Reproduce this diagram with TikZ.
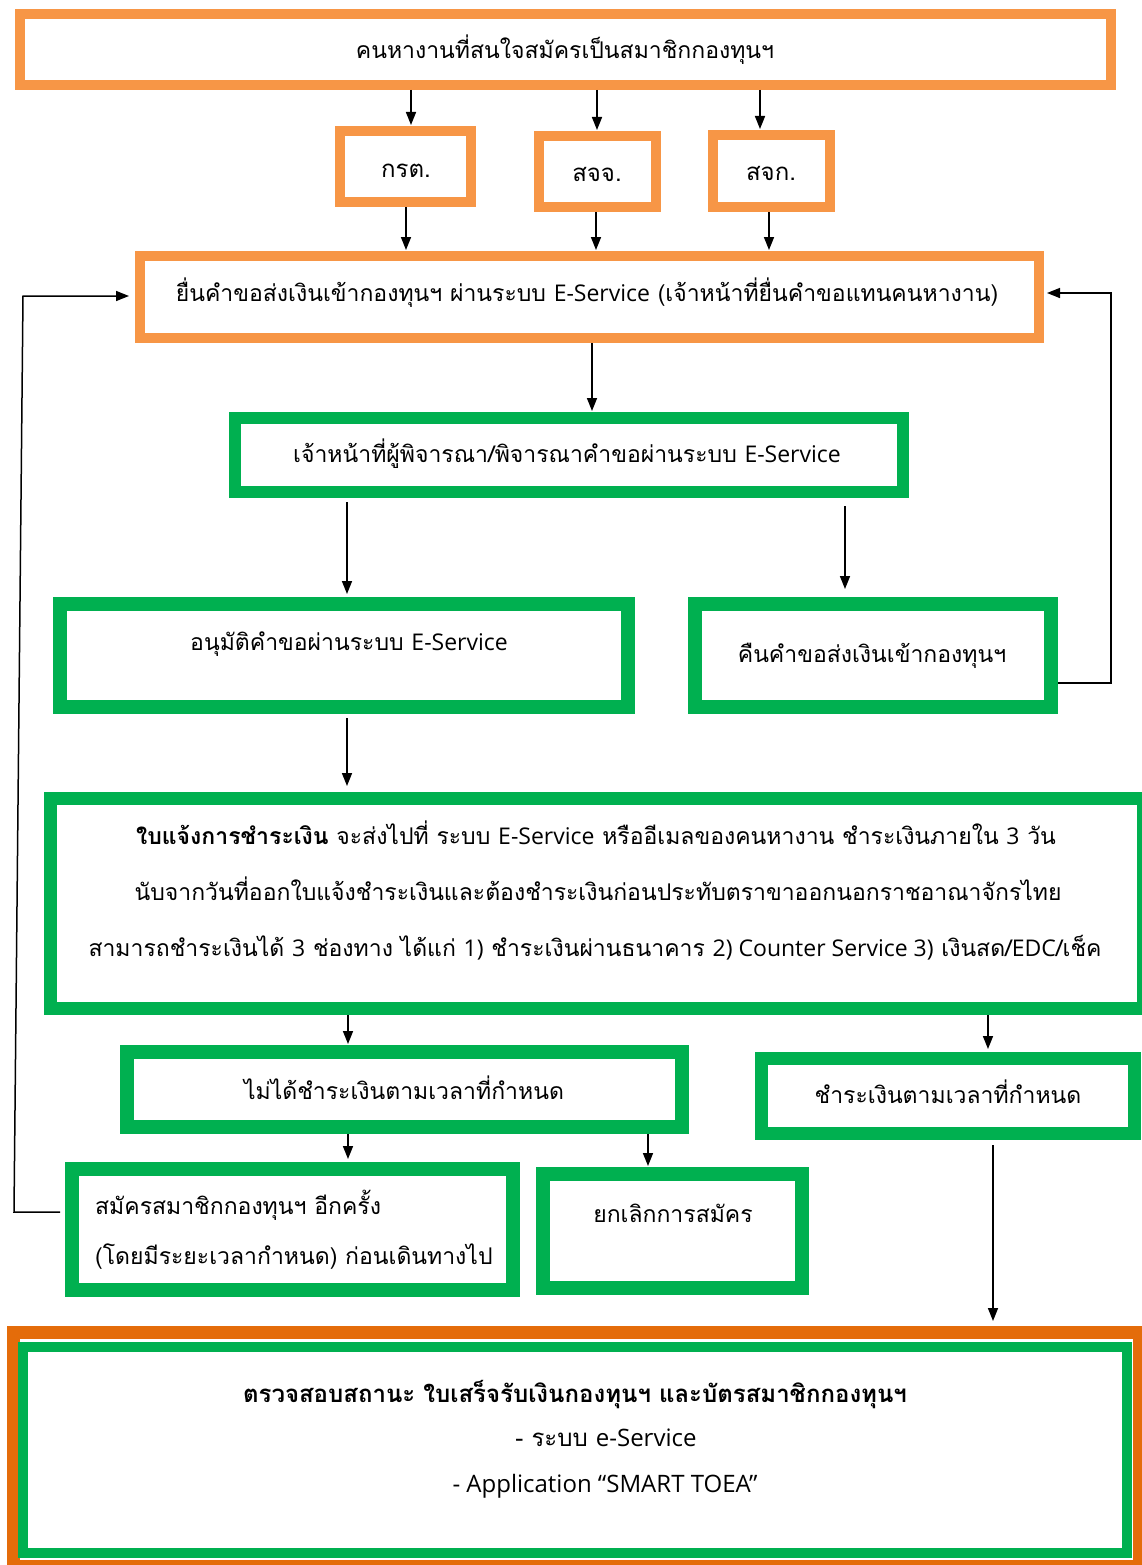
\documentclass[tikz,border=0pt]{standalone}
\usepackage{fontspec}
\setmainfont{Loma}[Script=Thai]
\newfontfamily\lat{Open Sans}
\usetikzlibrary{arrows.meta}
\definecolor{org}{HTML}{F79646}
\definecolor{dorg}{HTML}{E46C0A}
\definecolor{grn}{HTML}{00B050}
\begin{document}
\begin{tikzpicture}[x=1pt,y=-1pt,
  box/.style={draw=#1,inner sep=0pt},
  arr/.style={line width=1.6pt,-{Triangle[length=13pt,width=10pt]},shorten >=1pt},
  fb/.style={line width=1.5pt},
  txt/.style={inner sep=0pt,text height=1ex,text depth=0pt,yshift=-4pt,font=\fontsize{23}{27}\selectfont},
  bigtxt/.style={txt,font=\fontsize{24}{28}\selectfont},
]
\useasboundingbox[fill=white] (0,0) rectangle (1141,1565);

% boxes
\node[box=org,line width=10pt,minimum width=1091pt,minimum height=71pt] (top) at (565.5,49.5) {};
\node[box=org,line width=10pt,minimum width=131pt,minimum height=71pt] (krt) at (405.5,166.5) {};
\node[box=org,line width=10pt,minimum width=117pt,minimum height=71pt] (sjj) at (597.5,171.5) {};
\node[box=org,line width=10pt,minimum width=117pt,minimum height=72pt] (sjk) at (771.5,171) {};
\node[box=org,line width=10pt,minimum width=899pt,minimum height=82pt] (submit) at (589.5,297) {};
\node[box=grn,line width=12pt,minimum width=668pt,minimum height=74pt] (consider) at (569,455) {};
\node[box=grn,line width=14pt,minimum width=568pt,minimum height=103pt] (approve) at (344,655.5) {};
\node[box=grn,line width=14pt,minimum width=356pt,minimum height=103pt] (return) at (873,655.5) {};
\node[box=grn,line width=13pt,minimum width=1093pt,minimum height=210pt] (notice) at (597,903.5) {};
\node[box=grn,line width=14pt,minimum width=555pt,minimum height=75pt] (notpaid) at (404.5,1089.5) {};
\node[box=grn,line width=13pt,minimum width=373pt,minimum height=75pt] (paid) at (948,1096) {};
\node[box=grn,line width=14pt,minimum width=441pt,minimum height=121pt] (reapply) at (292.5,1229.5) {};
\node[box=grn,line width=14pt,minimum width=259pt,minimum height=114pt] (cancel) at (672.5,1231) {};
\node[box=dorg,line width=13pt,minimum width=1126pt,minimum height=234pt] (final) at (576.5,1449.5) {};
\node[box=grn,line width=10pt,minimum width=1104pt,minimum height=206pt] (finalin) at (575,1450) {};

% texts
\node[txt] (t1) at (565,52) {คนหางานที่สนใจสมัครเป็นสมาชิกกองทุนฯ};
\node[bigtxt] (t2) at (406,171) {กรต.};
\node[bigtxt] (t3) at (597,175) {สจจ.};
\node[bigtxt] (t4) at (771,174) {สจก.};
\node[txt] (t5) at (587,295) {ยื่นคำขอส่งเงินเข้ากองทุนฯ ผ่านระบบ {\lat E-Service} ({เจ้าหน้าที่ยื่นคำขอแทนคนหางาน})};
\node[txt] (t6) at (567,456) {เจ้าหน้าที่ผู้พิจารณา/พิจารณาคำขอผ่านระบบ {\lat E-Service}};
\node[txt] (t7) at (349,644) {อนุมัติคำขอผ่านระบบ {\lat E-Service}};
\node[txt] (t8) at (872,656) {คืนคำขอส่งเงินเข้ากองทุนฯ};
\node[txt] (t9a) at (596,838) {{\bfseries ใบแจ้งการชำระเงิน} จะส่งไปที่ ระบบ {\lat E-Service} หรืออีเมลของคนหางาน ชำระเงินภายใน {\lat 3} วัน};
\node[txt] (t9b) at (598,894) {นับจากวันที่ออกใบแจ้งชำระเงินและต้องชำระเงินก่อนประทับตราขาออกนอกราชอาณาจักรไทย};
\node[txt] (t9c) at (595,950) {สามารถชำระเงินได้ {\lat 3} ช่องทาง ได้แก่ {\lat 1)} ชำระเงินผ่านธนาคาร {\lat 2) Counter Service 3)} เงินสด/{\lat EDC}/เช็ค};
\node[txt] (t10) at (404,1093) {ไม่ได้ชำระเงินตามเวลาที่กำหนด};
\node[txt] (t11) at (948,1097) {ชำระเงินตามเวลาที่กำหนด};
\node[txt,anchor=west] (t12a) at (95,1208) {สมัครสมาชิกกองทุนฯ อีกครั้ง};
\node[txt,anchor=west] (t12b) at (95,1258) {(โดยมีระยะเวลากำหนด) ก่อนเดินทางไป};
\node[txt] (t13) at (673,1216) {ยกเลิกการสมัคร};
\node[bigtxt] (t14a) at (575,1396) {\bfseries ตรวจสอบสถานะ ใบเสร็จรับเงินกองทุนฯ และบัตรสมาชิกกองทุนฯ};
\node[bigtxt] (t14b) at (606,1440) {- ระบบ {\lat e-Service}};
\node[bigtxt] (t14c) at (605,1486) {{\lat - Application “SMART TOEA”}};

% arrows
\draw[arr] (411,0 |- top.south) -- (411,0 |- krt.north);
\draw[arr] (597,0 |- top.south) -- (597,0 |- sjj.north);
\draw[arr] (760,0 |- top.south) -- (760,0 |- sjk.north);
\draw[arr] (406,0 |- krt.south) -- (406,0 |- submit.north);
\draw[arr] (596,0 |- sjj.south) -- (596,0 |- submit.north);
\draw[arr] (769,0 |- sjk.south) -- (769,0 |- submit.north);
\draw[arr] (592,0 |- submit.south) -- (592,0 |- consider.north);
\draw[arr,shorten <=4pt,shorten >=3pt] (347,0 |- consider.south) -- (347,0 |- approve.north);
\draw[arr,shorten <=8pt,shorten >=8pt] (845,0 |- consider.south) -- (845,0 |- return.north);
\draw[arr,shorten <=4pt,shorten >=6pt] (347,0 |- approve.south) -- (347,0 |- notice.north);
\draw[arr] (348,0 |- notice.south) -- (348,0 |- notpaid.north);
\draw[arr,shorten >=3pt] (988,0 |- notice.south) -- (988,0 |- paid.north);
\draw[arr,shorten >=3pt] (348,0 |- notpaid.south) -- (348,0 |- reapply.north);
\draw[arr] (648,0 |- notpaid.south) -- (648,0 |- cancel.north);
\draw[arr,shorten <=5pt,shorten >=5pt] (993,0 |- paid.south) -- (993,0 |- final.north);

% feedback loops
\coordinate (lb) at (14,1212);
\coordinate (lt) at (23,296);
\draw[fb,-{Triangle[length=13pt,width=10pt]},shorten <=5pt,shorten >=6pt] (reapply.west |- lb) -- (lb) -- (lt) -- (submit.west |- lt);
\coordinate (rb) at (1111,683);
\coordinate (rt) at (1111,293);
\draw[fb,-{Triangle[length=13pt,width=10pt]},shorten >=3pt] (return.east |- rb) -- (rb) -- (rt) -- (submit.east |- rt);
\end{tikzpicture}
\end{document}
